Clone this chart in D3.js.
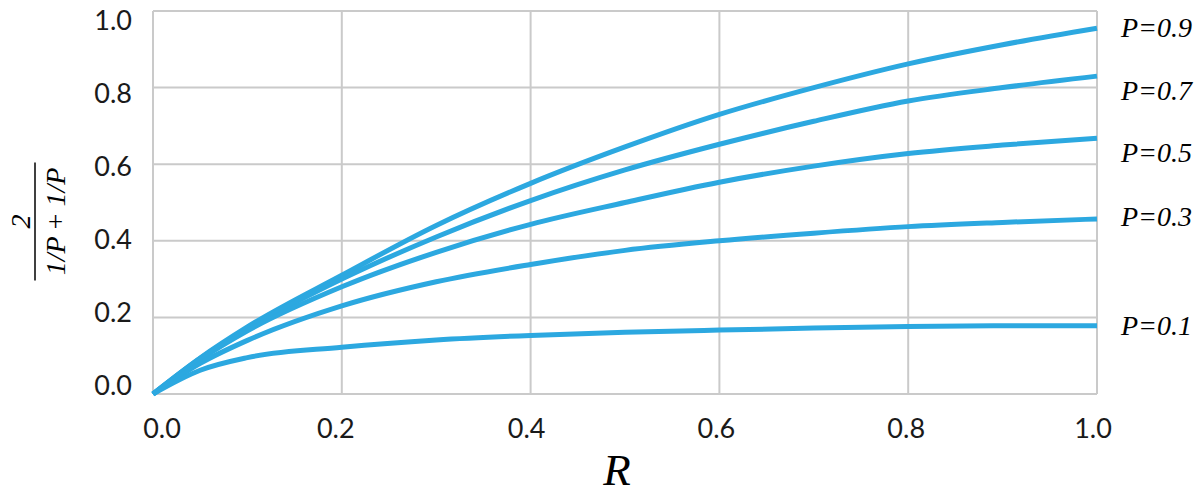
<!DOCTYPE html>
<html>
<head>
<meta charset="utf-8">
<script src="https://cdn.jsdelivr.net/npm/d3@7"></script>
<style>
  html, body { margin: 0; padding: 0; background: #fff; }
  svg { display: block; }
</style>
</head>
<body>
<svg id="chart" width="1200" height="500"></svg>
<script>
// ---- data ----
const recall = [0, 0.05, 0.1, 0.2, 0.3, 0.4, 0.5, 0.6, 0.7, 0.8, 0.9, 1.0];
const seriesNames = ["P=0.9", "P=0.7", "P=0.5", "P=0.3", "P=0.1"];
const p09 = [0, 0.094, 0.175, 0.31, 0.44, 0.55, 0.645, 0.73, 0.80, 0.862, 0.912, 0.955];
const p07 = [0, 0.093, 0.17, 0.30, 0.41, 0.505, 0.585, 0.652, 0.712, 0.765, 0.80, 0.83];
const p05 = [0, 0.09, 0.165, 0.28, 0.37, 0.443, 0.50, 0.553, 0.595, 0.628, 0.65, 0.668];
const p03 = [0, 0.08, 0.14, 0.23, 0.293, 0.338, 0.375, 0.40, 0.42, 0.437, 0.448, 0.457];
const p01 = [0, 0.062, 0.095, 0.122, 0.141, 0.153, 0.161, 0.167, 0.172, 0.176, 0.178, 0.178];
const xTicks = [0, 0.2, 0.4, 0.6, 0.8, 1.0];
const yTicks = [0, 0.2, 0.4, 0.6, 0.8, 1.0];
const xTickLabels = ["0.0", "0.2", "0.4", "0.6", "0.8", "1.0"];
const yTickLabels = ["0.0", "0.2", "0.4", "0.6", "0.8", "1.0"];

const seriesValues = [p09, p07, p05, p03, p01];

(function draw() {
  const svg = d3.select("#chart");
  const mLeft = 153, mRight = 1097, mTop = 11, mBottom = 394;
  const x = d3.scaleLinear().domain([0, 1]).range([mLeft, mRight]);
  const y = d3.scaleLinear().domain([0, 1]).range([mBottom, mTop]);
  const yLabelScale = d3.scaleLinear().domain([0, 1]).range([385, 20]);

  const gridColor = "#cacaca";
  const lineColor = "#2ca8e0";
  const sansFont = "Lato, 'Open Sans', sans-serif";
  const serifFont = "'Liberation Serif', 'Times New Roman', serif";

  // grid
  const grid = svg.append("g");
  grid.selectAll("line.v").data(xTicks).join("line")
    .attr("class", "v")
    .attr("x1", d => x(d)).attr("x2", d => x(d))
    .attr("y1", mTop).attr("y2", mBottom)
    .attr("stroke", gridColor).attr("stroke-width", 2);
  grid.selectAll("line.h").data(yTicks).join("line")
    .attr("class", "h")
    .attr("x1", mLeft).attr("x2", mRight)
    .attr("y1", d => y(d)).attr("y2", d => y(d))
    .attr("stroke", gridColor).attr("stroke-width", 2);

  // x tick labels
  const xLabelNudge = [9, -6, -4, -3, -2, -4];
  svg.append("g").selectAll("text").data(xTicks).join("text")
    .attr("x", (d, i) => x(d) + xLabelNudge[i])
    .attr("y", 438)
    .attr("text-anchor", "middle")
    .attr("font-family", sansFont)
    .attr("font-size", 27)
    .attr("fill", "#1a1a1a")
    .text((d, i) => xTickLabels[i]);

  // y tick labels
  svg.append("g").selectAll("text").data(yTicks).join("text")
    .attr("x", 132)
    .attr("y", d => yLabelScale(d))
    .attr("dy", "0.36em")
    .attr("text-anchor", "end")
    .attr("font-family", sansFont)
    .attr("font-size", 27)
    .attr("fill", "#1a1a1a")
    .text((d, i) => yTickLabels[i]);

  // lines
  const line = d3.line()
    .x((d, i) => x(recall[i]))
    .y(d => y(d))
    .curve(d3.curveMonotoneX);

  svg.append("g").selectAll("path").data(seriesValues).join("path")
    .attr("d", d => line(d))
    .attr("fill", "none")
    .attr("stroke", lineColor)
    .attr("stroke-width", 5)
    .attr("stroke-linecap", "butt");

  // series labels
  const labelBaselineNudge = [9, 24, 24, 7, 9];
  svg.append("g").selectAll("text").data(seriesValues).join("text")
    .attr("x", 1121)
    .attr("y", (d, i) => y(d[d.length - 1]) + labelBaselineNudge[i])
    .attr("font-family", serifFont)
    .attr("font-style", "italic")
    .attr("font-size", 28)
    .attr("fill", "#000")
    .text((d, i) => seriesNames[i]);

  // x axis title
  svg.append("text")
    .attr("x", 617).attr("y", 485)
    .attr("text-anchor", "middle")
    .attr("font-family", serifFont)
    .attr("font-style", "italic")
    .attr("font-size", 45)
    .attr("fill", "#000")
    .text("R");

  // y axis title (fraction, rotated)
  const yt = svg.append("g").attr("transform", "translate(35,221.5) rotate(-90)");
  yt.append("line")
    .attr("x1", -59).attr("x2", 59).attr("y1", 0).attr("y2", 0)
    .attr("stroke", "#000").attr("stroke-width", 1.5);
  yt.append("text")
    .attr("x", 0).attr("y", -5)
    .attr("text-anchor", "middle")
    .attr("font-family", serifFont)
    .attr("font-size", 28)
    .attr("font-style", "italic")
    .text("2");
  const den = yt.append("text")
    .attr("x", 0).attr("y", 30)
    .attr("text-anchor", "middle")
    .attr("font-family", serifFont)
    .attr("font-size", 28);
  den.append("tspan").attr("font-style", "italic").text("1/P");
  den.append("tspan").text(" + ");
  den.append("tspan").attr("font-style", "italic").text("1/P");
})();
</script>
</body>
</html>
